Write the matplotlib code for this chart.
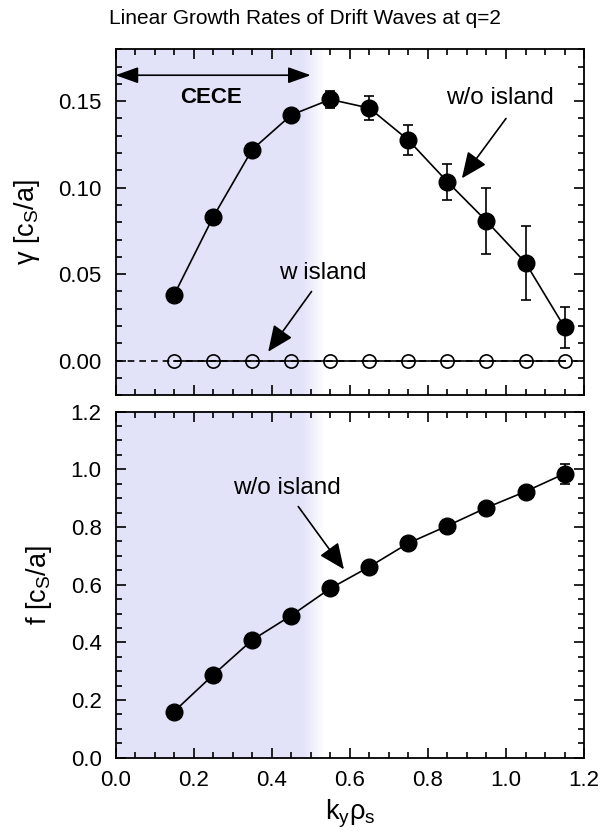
#!/usr/bin/env python3
"""
Linear growth rates / frequencies of drift waves at q=2
"""

import numpy as np
import matplotlib
matplotlib.use('Agg')
import matplotlib.pyplot as plt
from matplotlib.ticker import FormatStrFormatter

plt.rcParams['font.family'] = ['Liberation Sans', 'DejaVu Sans']
plt.rcParams['mathtext.default'] = 'regular'

# 数据
ky_rho = [0.15, 0.25, 0.35, 0.45, 0.55, 0.65, 0.75, 0.85, 0.95, 1.05, 1.15]
gamma_no_island = [0.038, 0.083, 0.122, 0.142, 0.151, 0.146, 0.1275, 0.1034, 0.0807, 0.0566, 0.0193]
gamma_err = [0.002, 0.002, 0.002, 0.002, 0.005, 0.0067, 0.0085, 0.0104, 0.019, 0.0215, 0.012]
gamma_island = [0.0, 0.0, 0.0, 0.0, 0.0, 0.0, 0.0, 0.0, 0.0, 0.0, 0.0]
freq_no_island = [0.16, 0.287, 0.408, 0.493, 0.587, 0.662, 0.744, 0.804, 0.867, 0.923, 0.985]
freq_err = [0.005, 0.005, 0.005, 0.005, 0.005, 0.005, 0.005, 0.005, 0.005, 0.005, 0.035]

cece_range = (0.0, 0.5)
shade_color = (0.89, 0.89, 0.98)

fig = plt.figure(figsize=(6.0, 8.35), dpi=100)
ax1 = fig.add_axes([0.1925, 0.5266, 0.781, 0.4144])
ax2 = fig.add_axes([0.1925, 0.0926, 0.781, 0.4144])

arrow_kw = dict(arrowstyle='-|>,head_length=0.8,head_width=0.35', mutation_scale=20,
                lw=1.2, color='black', shrinkA=0, shrinkB=0)


def shade(ax, ylim):
    # 带渐变边缘的CECE区域
    xs = np.linspace(0, 0.56, 300)
    alpha = np.clip((0.535 - xs) / 0.06, 0, 1)
    img = np.zeros((2, len(xs), 4))
    img[..., 0] = shade_color[0]
    img[..., 1] = shade_color[1]
    img[..., 2] = shade_color[2]
    img[..., 3] = alpha
    ax.imshow(img, extent=(0, 0.56, ylim[0], ylim[1]), aspect='auto',
              origin='lower', zorder=0, interpolation='bilinear')


def style(ax, ylim, major, minor):
    ax.set_xlim(0, 1.2)
    ax.set_ylim(*ylim)
    ax.set_xticks(np.arange(0, 1.21, 0.2))
    ax.set_xticks(np.arange(0, 1.21, 0.05), minor=True)
    ax.set_yticks(np.arange(max(ylim[0], 0), ylim[1] + 1e-9, major))
    ax.set_yticks(np.arange(ylim[0], ylim[1] + 1e-9, minor), minor=True)
    ax.tick_params(which='both', direction='in', top=True, right=True,
                   labelsize=16, width=1.2)
    ax.tick_params(axis='y', pad=10)
    ax.tick_params(axis='x', pad=9)
    ax.tick_params(which='major', length=7)
    ax.tick_params(which='minor', length=4.5)
    for sp in ax.spines.values():
        sp.set_linewidth(1.3)


# 上图：增长率
ylim1 = (-0.02, 0.18)
shade(ax1, ylim1)
ax1.axhline(0, color='black', lw=1.2, ls=(0, (4, 3)), zorder=2)
ax1.plot(ky_rho, gamma_island, color='black', lw=1.2, marker='o', ms=9.5,
         mfc='none', mec='black', mew=1.2, zorder=3)
ax1.errorbar(ky_rho, gamma_no_island, yerr=gamma_err, color='black', lw=1.2,
             marker='o', ms=12, capsize=3.5, elinewidth=1.2, capthick=1.2, zorder=4)
style(ax1, ylim1, 0.05, 0.01)
ax1.yaxis.set_major_formatter(FormatStrFormatter('%.2f'))
ax1.tick_params(labelbottom=False)
ax1.set_ylabel('γ [c$_S$/a]', fontsize=19.5, labelpad=12)
fig.text(0.508, 1 - 19 / 835, 'Linear Growth Rates of Drift Waves at q=2',
         fontsize=15, ha='center', va='center')

ax1.annotate('', xy=(cece_range[0], 0.165), xytext=(cece_range[1], 0.165),
             arrowprops=dict(arrowstyle='<|-|>,head_length=0.7,head_width=0.25',
                             mutation_scale=20, lw=1.2, color='black',
                             shrinkA=0, shrinkB=0))
ax1.text(0.245, 0.152, 'CECE', fontsize=16, fontweight='bold', ha='center', va='center')

ax1.text(0.985, 0.1517, 'w/o island', fontsize=17.5, ha='center', va='center')
ax1.annotate('', xy=(0.887, 0.1054), xytext=(1.0, 0.140), arrowprops=arrow_kw)
ax1.text(0.532, 0.0505, 'w island', fontsize=17.5, ha='center', va='center')
ax1.annotate('', xy=(0.391, 0.0052), xytext=(0.502, 0.040), arrowprops=arrow_kw)

# 下图：频率
ylim2 = (0.0, 1.2)
shade(ax2, ylim2)
ax2.errorbar(ky_rho, freq_no_island, yerr=freq_err, color='black', lw=1.2,
             marker='o', ms=12, capsize=3.5, elinewidth=1.2, capthick=1.2, zorder=4)
style(ax2, ylim2, 0.2, 0.05)
ax2.yaxis.set_major_formatter(FormatStrFormatter('%.1f'))
ax2.xaxis.set_major_formatter(FormatStrFormatter('%.1f'))
ax2.set_ylabel('f [c$_S$/a]', fontsize=19.5, labelpad=12)
ax2.set_xlabel('k$_y$ρ$_s$', fontsize=19.5, labelpad=5)
ax2.text(0.44, 0.935, 'w/o island', fontsize=17.5, ha='center', va='center')
ax2.annotate('', xy=(0.585, 0.653), xytext=(0.468, 0.871), arrowprops=arrow_kw)

plt.savefig('out.png', dpi=100)
plt.close()
